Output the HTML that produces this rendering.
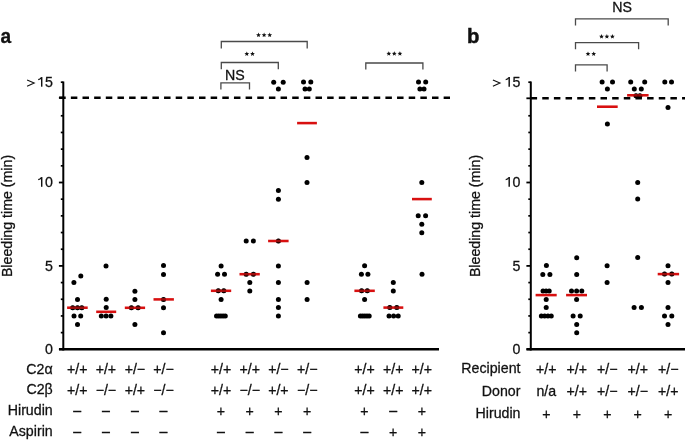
<!DOCTYPE html>
<html><head><meta charset="utf-8"><style>
html,body{margin:0;padding:0;background:#fff;width:685px;height:440px;overflow:hidden}
svg{display:block;will-change:transform}
text{font-family:"Liberation Sans", sans-serif}
</style></head><body>
<svg width="685" height="440" viewBox="0 0 685 440">
<rect width="685" height="440" fill="#fff"/>
<g font-family='"Liberation Sans", sans-serif' fill="#111" stroke-width="0">
<line x1="63.3" y1="81.4" x2="63.3" y2="350.5" stroke="#000" stroke-width="2"/>
<line x1="59.0" y1="349.3" x2="439" y2="349.3" stroke="#000" stroke-width="2.5"/>
<line x1="58.9" y1="349.30" x2="63.3" y2="349.30" stroke="#000" stroke-width="1.8"/>
<line x1="60.80" y1="332.62" x2="63.3" y2="332.62" stroke="#000" stroke-width="1.7"/>
<line x1="60.80" y1="315.94" x2="63.3" y2="315.94" stroke="#000" stroke-width="1.7"/>
<line x1="60.80" y1="299.26" x2="63.3" y2="299.26" stroke="#000" stroke-width="1.7"/>
<line x1="60.80" y1="282.58" x2="63.3" y2="282.58" stroke="#000" stroke-width="1.7"/>
<line x1="58.9" y1="265.90" x2="63.3" y2="265.90" stroke="#000" stroke-width="1.8"/>
<line x1="60.80" y1="249.22" x2="63.3" y2="249.22" stroke="#000" stroke-width="1.7"/>
<line x1="60.80" y1="232.54" x2="63.3" y2="232.54" stroke="#000" stroke-width="1.7"/>
<line x1="60.80" y1="215.86" x2="63.3" y2="215.86" stroke="#000" stroke-width="1.7"/>
<line x1="60.80" y1="199.18" x2="63.3" y2="199.18" stroke="#000" stroke-width="1.7"/>
<line x1="58.9" y1="182.50" x2="63.3" y2="182.50" stroke="#000" stroke-width="1.8"/>
<line x1="60.80" y1="165.82" x2="63.3" y2="165.82" stroke="#000" stroke-width="1.7"/>
<line x1="60.80" y1="149.14" x2="63.3" y2="149.14" stroke="#000" stroke-width="1.7"/>
<line x1="60.80" y1="132.46" x2="63.3" y2="132.46" stroke="#000" stroke-width="1.7"/>
<line x1="60.80" y1="115.78" x2="63.3" y2="115.78" stroke="#000" stroke-width="1.7"/>
<line x1="58.9" y1="97.70" x2="63.3" y2="97.70" stroke="#000" stroke-width="1.8"/>
<line x1="60.80" y1="82.20" x2="63.3" y2="82.20" stroke="#000" stroke-width="1.7"/>
<line x1="59.2" y1="97.7" x2="450" y2="97.7" stroke="#000" stroke-width="2.4" stroke-dasharray="6.5 5.15"/>
<text x="52.8" y="354.0" font-size="14.2" text-anchor="end" stroke="#111" stroke-width="0.28" >0</text>
<text x="52.8" y="270.59999999999997" font-size="14.2" text-anchor="end" stroke="#111" stroke-width="0.28" >5</text>
<text x="52.8" y="186.8" font-size="14.2" text-anchor="end" stroke="#111" stroke-width="0.28" >0</text>
<path d="M41.70 177.1 V186.8" stroke="#111" stroke-width="1.45" fill="none"/>
<path d="M41.30 177.60 Q40.30 179.30 38.20 179.60" stroke="#111" stroke-width="1.25" fill="none"/>
<text x="52.8" y="86.7" font-size="14.2" text-anchor="end" stroke="#111" stroke-width="0.28" >5</text>
<path d="M41.70 77.1 V86.7" stroke="#111" stroke-width="1.45" fill="none"/>
<path d="M41.30 77.60 Q40.30 79.30 38.20 79.60" stroke="#111" stroke-width="1.25" fill="none"/>
<path d="M27.10 79.9 L34.20 83.1 L27.10 86.2" fill="none" stroke="#111" stroke-width="1.1"/>
<line x1="530.8" y1="81.4" x2="530.8" y2="350.5" stroke="#000" stroke-width="2"/>
<line x1="526.5" y1="349.3" x2="685" y2="349.3" stroke="#000" stroke-width="2.5"/>
<line x1="526.4" y1="349.30" x2="530.8" y2="349.30" stroke="#000" stroke-width="1.8"/>
<line x1="528.30" y1="332.62" x2="530.8" y2="332.62" stroke="#000" stroke-width="1.7"/>
<line x1="528.30" y1="315.94" x2="530.8" y2="315.94" stroke="#000" stroke-width="1.7"/>
<line x1="528.30" y1="299.26" x2="530.8" y2="299.26" stroke="#000" stroke-width="1.7"/>
<line x1="528.30" y1="282.58" x2="530.8" y2="282.58" stroke="#000" stroke-width="1.7"/>
<line x1="526.4" y1="265.90" x2="530.8" y2="265.90" stroke="#000" stroke-width="1.8"/>
<line x1="528.30" y1="249.22" x2="530.8" y2="249.22" stroke="#000" stroke-width="1.7"/>
<line x1="528.30" y1="232.54" x2="530.8" y2="232.54" stroke="#000" stroke-width="1.7"/>
<line x1="528.30" y1="215.86" x2="530.8" y2="215.86" stroke="#000" stroke-width="1.7"/>
<line x1="528.30" y1="199.18" x2="530.8" y2="199.18" stroke="#000" stroke-width="1.7"/>
<line x1="526.4" y1="182.50" x2="530.8" y2="182.50" stroke="#000" stroke-width="1.8"/>
<line x1="528.30" y1="165.82" x2="530.8" y2="165.82" stroke="#000" stroke-width="1.7"/>
<line x1="528.30" y1="149.14" x2="530.8" y2="149.14" stroke="#000" stroke-width="1.7"/>
<line x1="528.30" y1="132.46" x2="530.8" y2="132.46" stroke="#000" stroke-width="1.7"/>
<line x1="528.30" y1="115.78" x2="530.8" y2="115.78" stroke="#000" stroke-width="1.7"/>
<line x1="526.4" y1="98.30" x2="530.8" y2="98.30" stroke="#000" stroke-width="1.8"/>
<line x1="528.30" y1="82.20" x2="530.8" y2="82.20" stroke="#000" stroke-width="1.7"/>
<line x1="530.6" y1="98.3" x2="685" y2="98.3" stroke="#000" stroke-width="2.4" stroke-dasharray="6.5 5.15"/>
<text x="520.3" y="354.0" font-size="14.2" text-anchor="end" stroke="#111" stroke-width="0.28" >0</text>
<text x="520.3" y="270.59999999999997" font-size="14.2" text-anchor="end" stroke="#111" stroke-width="0.28" >5</text>
<text x="520.3" y="186.8" font-size="14.2" text-anchor="end" stroke="#111" stroke-width="0.28" >0</text>
<path d="M509.20 177.1 V186.8" stroke="#111" stroke-width="1.45" fill="none"/>
<path d="M508.80 177.60 Q507.80 179.30 505.70 179.60" stroke="#111" stroke-width="1.25" fill="none"/>
<text x="520.3" y="86.7" font-size="14.2" text-anchor="end" stroke="#111" stroke-width="0.28" >5</text>
<path d="M509.20 77.1 V86.7" stroke="#111" stroke-width="1.45" fill="none"/>
<path d="M508.80 77.60 Q507.80 79.30 505.70 79.60" stroke="#111" stroke-width="1.25" fill="none"/>
<path d="M492.90 79.9 L500.00 83.1 L492.90 86.2" fill="none" stroke="#111" stroke-width="1.1"/>
<text x="0" y="0" font-size="20.8" text-anchor="start" stroke="#111" stroke-width="0.3" font-weight="bold" transform="translate(0.4 43.1) scale(0.92 1)">a</text>
<text x="467.0" y="42.8" font-size="20.3" text-anchor="start" stroke="#111" stroke-width="0.45" font-weight="bold">b</text>
<text x="0" y="0" font-size="14.2" text-anchor="middle" stroke="#111" stroke-width="0.28" transform="translate(12.2 216) rotate(-90)">Bleeding time (min)</text>
<text x="0" y="0" font-size="14.2" text-anchor="middle" stroke="#111" stroke-width="0.28" transform="translate(479.5 216) rotate(-90)">Bleeding time (min)</text>
<g fill="#000">
<circle cx="73.90" cy="282.60" r="2.5"/>
<circle cx="80.80" cy="276.00" r="2.5"/>
<circle cx="77.50" cy="299.50" r="2.5"/>
<circle cx="72.70" cy="307.70" r="2.5"/>
<circle cx="77.50" cy="307.70" r="2.5"/>
<circle cx="81.80" cy="307.70" r="2.5"/>
<circle cx="74.00" cy="315.90" r="2.5"/>
<circle cx="80.70" cy="315.90" r="2.5"/>
<circle cx="77.50" cy="324.50" r="2.5"/>
<circle cx="106.00" cy="266.00" r="2.5"/>
<circle cx="106.20" cy="299.30" r="2.5"/>
<circle cx="106.20" cy="307.50" r="2.5"/>
<circle cx="101.30" cy="316.10" r="2.5"/>
<circle cx="106.10" cy="316.10" r="2.5"/>
<circle cx="110.90" cy="316.10" r="2.5"/>
<circle cx="134.90" cy="291.20" r="2.5"/>
<circle cx="134.90" cy="299.40" r="2.5"/>
<circle cx="131.40" cy="307.80" r="2.5"/>
<circle cx="138.10" cy="307.80" r="2.5"/>
<circle cx="134.90" cy="324.60" r="2.5"/>
<circle cx="163.50" cy="265.60" r="2.5"/>
<circle cx="163.50" cy="274.40" r="2.5"/>
<circle cx="163.50" cy="299.40" r="2.5"/>
<circle cx="163.50" cy="307.80" r="2.5"/>
<circle cx="163.50" cy="332.80" r="2.5"/>
<circle cx="221.10" cy="265.90" r="2.5"/>
<circle cx="217.60" cy="274.20" r="2.5"/>
<circle cx="224.50" cy="274.20" r="2.5"/>
<circle cx="218.30" cy="290.80" r="2.5"/>
<circle cx="223.80" cy="290.80" r="2.5"/>
<circle cx="221.10" cy="299.40" r="2.5"/>
<circle cx="216.50" cy="316.00" r="2.5"/>
<circle cx="218.70" cy="316.00" r="2.5"/>
<circle cx="220.90" cy="316.00" r="2.5"/>
<circle cx="223.10" cy="316.00" r="2.5"/>
<circle cx="225.30" cy="316.00" r="2.5"/>
<circle cx="246.20" cy="241.00" r="2.5"/>
<circle cx="253.40" cy="241.00" r="2.5"/>
<circle cx="246.20" cy="274.20" r="2.5"/>
<circle cx="253.40" cy="274.20" r="2.5"/>
<circle cx="249.80" cy="282.50" r="2.5"/>
<circle cx="249.80" cy="290.90" r="2.5"/>
<circle cx="273.70" cy="82.20" r="2.5"/>
<circle cx="283.20" cy="82.20" r="2.5"/>
<circle cx="278.40" cy="88.90" r="2.5"/>
<circle cx="278.40" cy="190.60" r="2.5"/>
<circle cx="278.40" cy="199.30" r="2.5"/>
<circle cx="278.40" cy="241.00" r="2.5"/>
<circle cx="278.40" cy="266.00" r="2.5"/>
<circle cx="278.40" cy="282.60" r="2.5"/>
<circle cx="278.40" cy="299.40" r="2.5"/>
<circle cx="278.40" cy="307.60" r="2.5"/>
<circle cx="278.40" cy="316.10" r="2.5"/>
<circle cx="303.50" cy="82.00" r="2.5"/>
<circle cx="310.80" cy="82.00" r="2.5"/>
<circle cx="305.00" cy="88.90" r="2.5"/>
<circle cx="309.30" cy="88.90" r="2.5"/>
<circle cx="307.00" cy="157.50" r="2.5"/>
<circle cx="307.00" cy="182.40" r="2.5"/>
<circle cx="307.10" cy="282.60" r="2.5"/>
<circle cx="307.10" cy="299.40" r="2.5"/>
<circle cx="364.60" cy="265.70" r="2.5"/>
<circle cx="361.40" cy="274.30" r="2.5"/>
<circle cx="367.90" cy="274.30" r="2.5"/>
<circle cx="361.60" cy="290.80" r="2.5"/>
<circle cx="367.30" cy="290.80" r="2.5"/>
<circle cx="364.60" cy="299.60" r="2.5"/>
<circle cx="360.40" cy="316.00" r="2.5"/>
<circle cx="362.60" cy="316.00" r="2.5"/>
<circle cx="364.80" cy="316.00" r="2.5"/>
<circle cx="367.00" cy="316.00" r="2.5"/>
<circle cx="369.20" cy="316.00" r="2.5"/>
<circle cx="393.30" cy="282.40" r="2.5"/>
<circle cx="393.30" cy="291.10" r="2.5"/>
<circle cx="389.80" cy="307.60" r="2.5"/>
<circle cx="396.80" cy="307.60" r="2.5"/>
<circle cx="389.00" cy="316.00" r="2.5"/>
<circle cx="393.60" cy="316.00" r="2.5"/>
<circle cx="398.20" cy="316.00" r="2.5"/>
<circle cx="418.50" cy="82.00" r="2.5"/>
<circle cx="425.70" cy="82.00" r="2.5"/>
<circle cx="419.90" cy="89.00" r="2.5"/>
<circle cx="424.00" cy="89.00" r="2.5"/>
<circle cx="421.80" cy="182.40" r="2.5"/>
<circle cx="418.20" cy="215.80" r="2.5"/>
<circle cx="425.60" cy="215.80" r="2.5"/>
<circle cx="421.80" cy="224.30" r="2.5"/>
<circle cx="421.80" cy="232.70" r="2.5"/>
<circle cx="422.00" cy="274.30" r="2.5"/>
<circle cx="546.40" cy="265.60" r="2.5"/>
<circle cx="542.80" cy="274.40" r="2.5"/>
<circle cx="549.90" cy="274.40" r="2.5"/>
<circle cx="543.00" cy="291.10" r="2.5"/>
<circle cx="546.10" cy="291.10" r="2.5"/>
<circle cx="549.20" cy="291.10" r="2.5"/>
<circle cx="546.20" cy="299.50" r="2.5"/>
<circle cx="546.20" cy="307.60" r="2.5"/>
<circle cx="541.35" cy="316.10" r="2.5"/>
<circle cx="544.65" cy="316.10" r="2.5"/>
<circle cx="547.95" cy="316.10" r="2.5"/>
<circle cx="551.25" cy="316.10" r="2.5"/>
<circle cx="576.70" cy="257.70" r="2.5"/>
<circle cx="576.70" cy="274.40" r="2.5"/>
<circle cx="571.50" cy="291.10" r="2.5"/>
<circle cx="576.60" cy="291.10" r="2.5"/>
<circle cx="581.80" cy="291.10" r="2.5"/>
<circle cx="576.60" cy="299.50" r="2.5"/>
<circle cx="573.10" cy="316.10" r="2.5"/>
<circle cx="580.20" cy="316.10" r="2.5"/>
<circle cx="576.70" cy="324.60" r="2.5"/>
<circle cx="576.70" cy="332.80" r="2.5"/>
<circle cx="602.10" cy="82.00" r="2.5"/>
<circle cx="612.50" cy="82.00" r="2.5"/>
<circle cx="607.40" cy="89.00" r="2.5"/>
<circle cx="607.40" cy="124.00" r="2.5"/>
<circle cx="607.10" cy="265.70" r="2.5"/>
<circle cx="607.10" cy="282.50" r="2.5"/>
<circle cx="630.70" cy="82.00" r="2.5"/>
<circle cx="644.70" cy="82.00" r="2.5"/>
<circle cx="634.30" cy="88.90" r="2.5"/>
<circle cx="641.30" cy="88.90" r="2.5"/>
<circle cx="636.00" cy="95.80" r="2.5"/>
<circle cx="639.90" cy="95.80" r="2.5"/>
<circle cx="637.70" cy="182.60" r="2.5"/>
<circle cx="637.70" cy="199.10" r="2.5"/>
<circle cx="637.70" cy="257.50" r="2.5"/>
<circle cx="634.10" cy="307.50" r="2.5"/>
<circle cx="641.40" cy="307.50" r="2.5"/>
<circle cx="664.80" cy="82.00" r="2.5"/>
<circle cx="671.50" cy="82.00" r="2.5"/>
<circle cx="668.00" cy="107.40" r="2.5"/>
<circle cx="668.00" cy="265.70" r="2.5"/>
<circle cx="664.50" cy="274.10" r="2.5"/>
<circle cx="671.80" cy="274.10" r="2.5"/>
<circle cx="668.00" cy="282.50" r="2.5"/>
<circle cx="668.00" cy="307.50" r="2.5"/>
<circle cx="664.50" cy="315.90" r="2.5"/>
<circle cx="671.80" cy="315.90" r="2.5"/>
<circle cx="668.00" cy="324.50" r="2.5"/>
</g>
<line x1="67.1" y1="307.7" x2="87.7" y2="307.7" stroke="#d81010" stroke-width="2.55"/>
<line x1="96.2" y1="311.8" x2="116.2" y2="311.8" stroke="#d81010" stroke-width="2.55"/>
<line x1="124.8" y1="307.8" x2="145.1" y2="307.8" stroke="#d81010" stroke-width="2.55"/>
<line x1="153.5" y1="299.4" x2="173.9" y2="299.4" stroke="#d81010" stroke-width="2.55"/>
<line x1="210.9" y1="290.8" x2="231.2" y2="290.8" stroke="#d81010" stroke-width="2.55"/>
<line x1="239.5" y1="274.2" x2="259.8" y2="274.2" stroke="#d81010" stroke-width="2.55"/>
<line x1="268.1" y1="241" x2="288.6" y2="241" stroke="#d81010" stroke-width="2.55"/>
<line x1="297.1" y1="123.1" x2="316.9" y2="123.1" stroke="#d81010" stroke-width="2.55"/>
<line x1="354.4" y1="290.8" x2="374.8" y2="290.8" stroke="#d81010" stroke-width="2.55"/>
<line x1="383.4" y1="307.6" x2="403.3" y2="307.6" stroke="#d81010" stroke-width="2.55"/>
<line x1="412" y1="199.1" x2="431.8" y2="199.1" stroke="#d81010" stroke-width="2.55"/>
<line x1="535.6" y1="295.1" x2="556.7" y2="295.1" stroke="#d81010" stroke-width="2.55"/>
<line x1="566.1" y1="295.1" x2="587" y2="295.1" stroke="#d81010" stroke-width="2.55"/>
<line x1="597" y1="106.7" x2="617.7" y2="106.7" stroke="#d81010" stroke-width="2.55"/>
<line x1="627.1" y1="95.3" x2="648.6" y2="95.3" stroke="#d81010" stroke-width="2.55"/>
<line x1="657.7" y1="274.1" x2="679.1" y2="274.1" stroke="#d81010" stroke-width="2.55"/>
<g fill="#000" fill-opacity="0.3">
<circle cx="72.70" cy="307.70" r="2.5"/>
<circle cx="77.50" cy="307.70" r="2.5"/>
<circle cx="81.80" cy="307.70" r="2.5"/>
<circle cx="131.40" cy="307.80" r="2.5"/>
<circle cx="138.10" cy="307.80" r="2.5"/>
<circle cx="163.50" cy="299.40" r="2.5"/>
<circle cx="218.30" cy="290.80" r="2.5"/>
<circle cx="223.80" cy="290.80" r="2.5"/>
<circle cx="246.20" cy="274.20" r="2.5"/>
<circle cx="253.40" cy="274.20" r="2.5"/>
<circle cx="278.40" cy="241.00" r="2.5"/>
<circle cx="361.60" cy="290.80" r="2.5"/>
<circle cx="367.30" cy="290.80" r="2.5"/>
<circle cx="389.80" cy="307.60" r="2.5"/>
<circle cx="396.80" cy="307.60" r="2.5"/>
<circle cx="636.00" cy="95.80" r="2.5"/>
<circle cx="639.90" cy="95.80" r="2.5"/>
<circle cx="664.50" cy="274.10" r="2.5"/>
<circle cx="671.80" cy="274.10" r="2.5"/>
</g>
<path d="M220.9 89.5 V82.8 H249.5 V89.5" fill="none" stroke="#4a4a4a" stroke-width="1.3"/>
<path d="M221.3 69.2 V62.5 H278.3 V69.2" fill="none" stroke="#4a4a4a" stroke-width="1.3"/>
<path d="M221.3 48.6 V41.5 H307.2 V48.6" fill="none" stroke="#4a4a4a" stroke-width="1.3"/>
<path d="M365.8 69.6 V63 H422.9 V69.6" fill="none" stroke="#4a4a4a" stroke-width="1.3"/>
<path d="M575.5 25.6 V18.8 H668.2 V25.6" fill="none" stroke="#4a4a4a" stroke-width="1.3"/>
<path d="M575.5 49.3 V42.6 H638.6 V49.3" fill="none" stroke="#4a4a4a" stroke-width="1.3"/>
<path d="M575.5 71.4 V64.9 H607.1 V71.4" fill="none" stroke="#4a4a4a" stroke-width="1.3"/>
<text x="234.8" y="80" font-size="14.2" text-anchor="middle" stroke="#111" stroke-width="0.28" >NS</text>
<text x="622" y="11.9" font-size="14.2" text-anchor="middle" stroke="#111" stroke-width="0.28" >NS</text>
<polygon points="258.50,32.60 259.16,34.19 260.88,34.33 259.57,35.45 259.97,37.12 258.50,36.22 257.03,37.12 257.43,35.45 256.12,34.33 257.84,34.19" fill="#111"/>
<polygon points="264.10,32.60 264.76,34.19 266.48,34.33 265.17,35.45 265.57,37.12 264.10,36.22 262.63,37.12 263.03,35.45 261.72,34.33 263.44,34.19" fill="#111"/>
<polygon points="269.70,32.60 270.36,34.19 272.08,34.33 270.77,35.45 271.17,37.12 269.70,36.22 268.23,37.12 268.63,35.45 267.32,34.33 269.04,34.19" fill="#111"/>
<polygon points="246.80,51.50 247.46,53.09 249.18,53.23 247.87,54.35 248.27,56.02 246.80,55.12 245.33,56.02 245.73,54.35 244.42,53.23 246.14,53.09" fill="#111"/>
<polygon points="252.50,51.50 253.16,53.09 254.88,53.23 253.57,54.35 253.97,56.02 252.50,55.12 251.03,56.02 251.43,54.35 250.12,53.23 251.84,53.09" fill="#111"/>
<polygon points="388.80,51.20 389.46,52.79 391.18,52.93 389.87,54.05 390.27,55.72 388.80,54.82 387.33,55.72 387.73,54.05 386.42,52.93 388.14,52.79" fill="#111"/>
<polygon points="394.30,51.20 394.96,52.79 396.68,52.93 395.37,54.05 395.77,55.72 394.30,54.82 392.83,55.72 393.23,54.05 391.92,52.93 393.64,52.79" fill="#111"/>
<polygon points="399.90,51.20 400.56,52.79 402.28,52.93 400.97,54.05 401.37,55.72 399.90,54.82 398.43,55.72 398.83,54.05 397.52,52.93 399.24,52.79" fill="#111"/>
<polygon points="601.50,34.10 602.16,35.69 603.88,35.83 602.57,36.95 602.97,38.62 601.50,37.72 600.03,38.62 600.43,36.95 599.12,35.83 600.84,35.69" fill="#111"/>
<polygon points="606.90,34.10 607.56,35.69 609.28,35.83 607.97,36.95 608.37,38.62 606.90,37.72 605.43,38.62 605.83,36.95 604.52,35.83 606.24,35.69" fill="#111"/>
<polygon points="612.40,34.10 613.06,35.69 614.78,35.83 613.47,36.95 613.87,38.62 612.40,37.72 610.93,38.62 611.33,36.95 610.02,35.83 611.74,35.69" fill="#111"/>
<polygon points="588.00,51.50 588.66,53.09 590.38,53.23 589.07,54.35 589.47,56.02 588.00,55.12 586.53,56.02 586.93,54.35 585.62,53.23 587.34,53.09" fill="#111"/>
<polygon points="593.70,51.50 594.36,53.09 596.08,53.23 594.77,54.35 595.17,56.02 593.70,55.12 592.23,56.02 592.63,54.35 591.32,53.23 593.04,53.09" fill="#111"/>
<text x="52.7" y="373.6" font-size="14.2" text-anchor="end" stroke="#111" stroke-width="0.28" >C2&#945;</text>
<text x="52.7" y="394.1" font-size="14.2" text-anchor="end" stroke="#111" stroke-width="0.28" >C2&#946;</text>
<text x="52.7" y="415.0" font-size="14.2" text-anchor="end" stroke="#111" stroke-width="0.28" >Hirudin</text>
<text x="52.7" y="436.2" font-size="14.2" text-anchor="end" stroke="#111" stroke-width="0.28" >Aspirin</text>
<text x="77.2" y="374.20000000000005" font-size="14.2" text-anchor="middle" stroke="#111" stroke-width="0.28" >+/+</text>
<text x="105.9" y="374.20000000000005" font-size="14.2" text-anchor="middle" stroke="#111" stroke-width="0.28" >+/+</text>
<text x="134.9" y="374.20000000000005" font-size="14.2" text-anchor="middle" stroke="#111" stroke-width="0.28" >+/&#8722;</text>
<text x="163.5" y="374.20000000000005" font-size="14.2" text-anchor="middle" stroke="#111" stroke-width="0.28" >+/&#8722;</text>
<text x="221.0" y="374.20000000000005" font-size="14.2" text-anchor="middle" stroke="#111" stroke-width="0.28" >+/+</text>
<text x="249.7" y="374.20000000000005" font-size="14.2" text-anchor="middle" stroke="#111" stroke-width="0.28" >+/+</text>
<text x="278.4" y="374.20000000000005" font-size="14.2" text-anchor="middle" stroke="#111" stroke-width="0.28" >+/&#8722;</text>
<text x="307.2" y="374.20000000000005" font-size="14.2" text-anchor="middle" stroke="#111" stroke-width="0.28" >+/&#8722;</text>
<text x="364.5" y="374.20000000000005" font-size="14.2" text-anchor="middle" stroke="#111" stroke-width="0.28" >+/+</text>
<text x="393.2" y="374.20000000000005" font-size="14.2" text-anchor="middle" stroke="#111" stroke-width="0.28" >+/+</text>
<text x="421.8" y="374.20000000000005" font-size="14.2" text-anchor="middle" stroke="#111" stroke-width="0.28" >+/+</text>
<text x="77.2" y="394.70000000000005" font-size="14.2" text-anchor="middle" stroke="#111" stroke-width="0.28" >+/+</text>
<text x="105.9" y="394.70000000000005" font-size="14.2" text-anchor="middle" stroke="#111" stroke-width="0.28" >&#8722;/&#8722;</text>
<text x="134.9" y="394.70000000000005" font-size="14.2" text-anchor="middle" stroke="#111" stroke-width="0.28" >+/+</text>
<text x="163.5" y="394.70000000000005" font-size="14.2" text-anchor="middle" stroke="#111" stroke-width="0.28" >&#8722;/&#8722;</text>
<text x="221.0" y="394.70000000000005" font-size="14.2" text-anchor="middle" stroke="#111" stroke-width="0.28" >+/+</text>
<text x="249.7" y="394.70000000000005" font-size="14.2" text-anchor="middle" stroke="#111" stroke-width="0.28" >&#8722;/&#8722;</text>
<text x="278.4" y="394.70000000000005" font-size="14.2" text-anchor="middle" stroke="#111" stroke-width="0.28" >+/+</text>
<text x="307.2" y="394.70000000000005" font-size="14.2" text-anchor="middle" stroke="#111" stroke-width="0.28" >&#8722;/&#8722;</text>
<text x="364.5" y="394.70000000000005" font-size="14.2" text-anchor="middle" stroke="#111" stroke-width="0.28" >+/+</text>
<text x="393.2" y="394.70000000000005" font-size="14.2" text-anchor="middle" stroke="#111" stroke-width="0.28" >+/+</text>
<text x="421.8" y="394.70000000000005" font-size="14.2" text-anchor="middle" stroke="#111" stroke-width="0.28" >+/+</text>
<text x="77.2" y="415.0" font-size="14.2" text-anchor="middle" stroke="#111" stroke-width="0.28" >&#8211;</text>
<text x="105.9" y="415.0" font-size="14.2" text-anchor="middle" stroke="#111" stroke-width="0.28" >&#8211;</text>
<text x="134.9" y="415.0" font-size="14.2" text-anchor="middle" stroke="#111" stroke-width="0.28" >&#8211;</text>
<text x="163.5" y="415.0" font-size="14.2" text-anchor="middle" stroke="#111" stroke-width="0.28" >&#8211;</text>
<text x="221.0" y="415.6" font-size="14.2" text-anchor="middle" stroke="#111" stroke-width="0.28" >+</text>
<text x="249.7" y="415.6" font-size="14.2" text-anchor="middle" stroke="#111" stroke-width="0.28" >+</text>
<text x="278.4" y="415.6" font-size="14.2" text-anchor="middle" stroke="#111" stroke-width="0.28" >+</text>
<text x="307.2" y="415.6" font-size="14.2" text-anchor="middle" stroke="#111" stroke-width="0.28" >+</text>
<text x="364.5" y="415.6" font-size="14.2" text-anchor="middle" stroke="#111" stroke-width="0.28" >+</text>
<text x="393.2" y="415.0" font-size="14.2" text-anchor="middle" stroke="#111" stroke-width="0.28" >&#8211;</text>
<text x="421.8" y="415.6" font-size="14.2" text-anchor="middle" stroke="#111" stroke-width="0.28" >+</text>
<text x="77.2" y="436.2" font-size="14.2" text-anchor="middle" stroke="#111" stroke-width="0.28" >&#8211;</text>
<text x="105.9" y="436.2" font-size="14.2" text-anchor="middle" stroke="#111" stroke-width="0.28" >&#8211;</text>
<text x="134.9" y="436.2" font-size="14.2" text-anchor="middle" stroke="#111" stroke-width="0.28" >&#8211;</text>
<text x="163.5" y="436.2" font-size="14.2" text-anchor="middle" stroke="#111" stroke-width="0.28" >&#8211;</text>
<text x="221.0" y="436.2" font-size="14.2" text-anchor="middle" stroke="#111" stroke-width="0.28" >&#8211;</text>
<text x="249.7" y="436.2" font-size="14.2" text-anchor="middle" stroke="#111" stroke-width="0.28" >&#8211;</text>
<text x="278.4" y="436.2" font-size="14.2" text-anchor="middle" stroke="#111" stroke-width="0.28" >&#8211;</text>
<text x="307.2" y="436.2" font-size="14.2" text-anchor="middle" stroke="#111" stroke-width="0.28" >&#8211;</text>
<text x="364.5" y="436.2" font-size="14.2" text-anchor="middle" stroke="#111" stroke-width="0.28" >&#8211;</text>
<text x="393.2" y="436.8" font-size="14.2" text-anchor="middle" stroke="#111" stroke-width="0.28" >+</text>
<text x="421.8" y="436.8" font-size="14.2" text-anchor="middle" stroke="#111" stroke-width="0.28" >+</text>
<text x="520.5" y="373.1" font-size="14.2" text-anchor="end" stroke="#111" stroke-width="0.28" >Recipient</text>
<text x="520.5" y="395.7" font-size="14.2" text-anchor="end" stroke="#111" stroke-width="0.28" >Donor</text>
<text x="520.5" y="417.9" font-size="14.2" text-anchor="end" stroke="#111" stroke-width="0.28" >Hirudin</text>
<text x="546.3" y="373.70000000000005" font-size="14.2" text-anchor="middle" stroke="#111" stroke-width="0.28" >+/+</text>
<text x="576.8" y="373.70000000000005" font-size="14.2" text-anchor="middle" stroke="#111" stroke-width="0.28" >+/+</text>
<text x="607.3" y="373.70000000000005" font-size="14.2" text-anchor="middle" stroke="#111" stroke-width="0.28" >+/&#8722;</text>
<text x="637.7" y="373.70000000000005" font-size="14.2" text-anchor="middle" stroke="#111" stroke-width="0.28" >+/+</text>
<text x="668.2" y="373.70000000000005" font-size="14.2" text-anchor="middle" stroke="#111" stroke-width="0.28" >+/&#8722;</text>
<text x="546.3" y="395.7" font-size="14.2" text-anchor="middle" stroke="#111" stroke-width="0.28" >n/a</text>
<text x="576.8" y="396.3" font-size="14.2" text-anchor="middle" stroke="#111" stroke-width="0.28" >+/+</text>
<text x="607.3" y="396.3" font-size="14.2" text-anchor="middle" stroke="#111" stroke-width="0.28" >+/&#8722;</text>
<text x="637.7" y="396.3" font-size="14.2" text-anchor="middle" stroke="#111" stroke-width="0.28" >+/&#8722;</text>
<text x="668.2" y="396.3" font-size="14.2" text-anchor="middle" stroke="#111" stroke-width="0.28" >+/+</text>
<text x="546.3" y="418.5" font-size="14.2" text-anchor="middle" stroke="#111" stroke-width="0.28" >+</text>
<text x="576.8" y="418.5" font-size="14.2" text-anchor="middle" stroke="#111" stroke-width="0.28" >+</text>
<text x="607.3" y="418.5" font-size="14.2" text-anchor="middle" stroke="#111" stroke-width="0.28" >+</text>
<text x="637.7" y="418.5" font-size="14.2" text-anchor="middle" stroke="#111" stroke-width="0.28" >+</text>
<text x="668.2" y="418.5" font-size="14.2" text-anchor="middle" stroke="#111" stroke-width="0.28" >+</text>
</g></svg>
</body></html>
